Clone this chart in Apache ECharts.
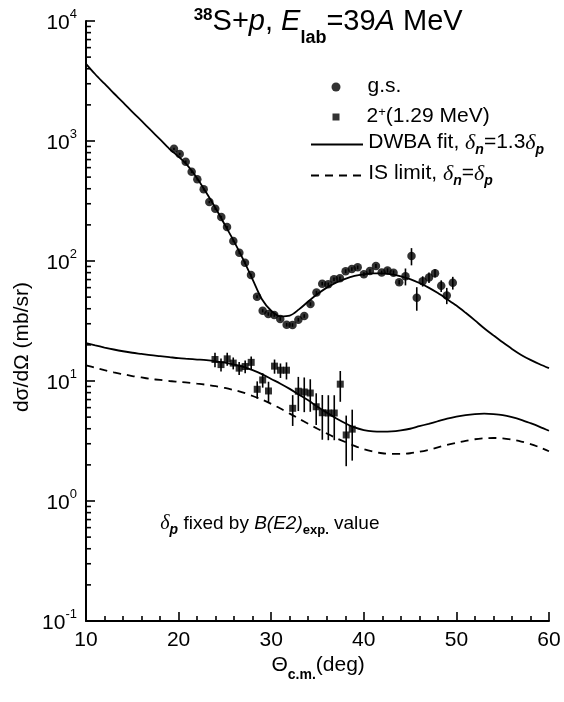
<!DOCTYPE html>
<html><head><meta charset="utf-8">
<script src="https://cdn.jsdelivr.net/npm/echarts/dist/echarts.min.js"></script>
<style>html,body{margin:0;padding:0;background:#fff}#c{width:564px;height:702px}</style>
</head><body><div id="c"></div>
<script>
// ---- data ----
const gsTheta = [19.5,20.12,20.77,21.41,22.02,22.71,23.32,23.96,24.61,25.23,25.91,26.56,27.17,27.82,28.47,29.08,29.69,30.33,30.98,31.67,32.30,32.93,33.57,34.24,34.89,35.51,36.16,36.78,37.42,38.04,38.71,39.34,40.01,40.66,41.31,41.93,42.56,43.21,43.82,44.50,45.15,45.72,46.36,47.04,47.69,48.36,48.96,49.61];
const gsValue = [860,780,672,555,480,396,310,273,233,192,147,117,96.8,76.4,50.4,38.5,36.2,35.5,32.9,29.4,29.3,32.4,34.8,43.8,54.6,64.7,63.9,70.5,71.7,82.3,85.9,88.6,77.6,82.5,90.9,80.2,83.3,79.9,66.6,74.6,110,49.5,67.9,72.9,79,62.1,51.7,65.8];
const gsErr = [20,18,16,13,11,9,7,6,5,4,3.5,3,2.5,2,1.5,1.2,1.2,1.2,1.1,1,1,1.1,1.2,1.5,1.8,2.2,2.2,2.5,2.5,3,3,3.2,3,3,3.5,3,3.5,3.5,3,12,18,11,6.7,7.3,6.3,6.9,8,8];

const exTheta = [23.93,24.58,25.25,25.90,26.54,27.19,27.84,28.49,29.08,29.71,30.36,31.00,31.65,32.32,32.93,33.57,34.22,34.86,35.52,36.17,36.81,37.46,38.10,38.75];
const exValue = [15.1,13.7,15.3,14.1,12.8,13.2,14.3,8.53,10.2,8.26,13.3,12.3,12.3,5.92,8.22,8.1,7.94,6.1,5.44,5.41,5.41,9.41,3.55,3.97];
const exErr = [2.1,1.7,1.9,1.6,1.6,1.6,1.7,1.4,1.4,1.6,1.8,1.7,2.0,1.7,2.6,2.6,2.4,1.8,2.2,2.2,2.2,2.7,1.6,1.8];

const curveTheta = [10,11,12,13,14,15,16,17,18,19,20,21,22,23,24,25,26,27,28,29,30,31,32,33,34,35,36,37,38,39,40,41,42,43,44,45,46,47,48,49,50,51,52,53,54,55,56,57,58,59,60];
const dwbaGs = [4400,3600,3000,2500,2100,1750,1470,1230,1030,860,740,620,490,370,275,200,145,102,70,48,38.5,34.5,35,39.5,46,53,60,66,71,75,77.5,79,79,77.5,74.5,70.5,65.5,60,54,48,42.5,37,32,27.5,24,21,18.5,16.5,15,13.8,12.8];
const dwbaEx = [20.7,19.8,19,18.3,17.7,17.2,16.8,16.4,16.1,15.8,15.5,15.3,15.1,14.9,14.6,14.2,13.7,13.1,12.3,11.4,10.4,9.5,8.6,7.7,6.9,6.1,5.45,4.9,4.45,4.1,3.9,3.8,3.78,3.8,3.88,4.0,4.2,4.4,4.62,4.85,5.05,5.2,5.3,5.35,5.3,5.2,5.0,4.75,4.45,4.15,3.85];
const isLimit = [13.5,12.9,12.3,11.8,11.4,11.0,10.7,10.4,10.2,10.0,9.85,9.7,9.5,9.3,9.05,8.75,8.4,8.0,7.5,7.0,6.45,5.9,5.35,4.85,4.4,4.0,3.65,3.35,3.1,2.88,2.7,2.58,2.5,2.47,2.47,2.5,2.57,2.67,2.8,2.93,3.05,3.17,3.27,3.33,3.35,3.33,3.25,3.13,2.98,2.8,2.6];

const xMin = 10, xMax = 60, xStep = 10;
const yExpMin = -1, yExpMax = 4;

// ---- build ----
const F = 'Liberation Sans, Arial, sans-serif';
const zip = (a, b) => a.map((v, i) => [v, b[i]]);
const errData = (t, v, e) => t.map((x, i) => [x, v[i] - e[i], v[i] + e[i]]);
const minorTickVals = [];
for (let e = yExpMin; e < yExpMax; e++) for (let k = 2; k <= 9; k++) minorTickVals.push([xMin, k * Math.pow(10, e)]);

const errRender = (params, api) => {
  const a = api.coord([api.value(0), api.value(1)]);
  const b = api.coord([api.value(0), api.value(2)]);
  return {type: 'line', shape: {x1: a[0], y1: a[1], x2: b[0], y2: b[1]}, style: {stroke: '#000', lineWidth: 1.6}};
};

function mkRich(base, fill) {
  const c = fill ? {fill: '#000'} : {color: '#000'};
  return {
    h: Object.assign({fontSize: 1, lineHeight: base + 4, verticalAlign: 'top'}, c),
    t: Object.assign({fontSize: base, fontFamily: F, lineHeight: base + 1, verticalAlign: 'top'}, c),
    tp: Object.assign({fontSize: base, fontFamily: F, lineHeight: base + 1, verticalAlign: 'top', padding: [0, 0, 0, 22]}, c),
    i: Object.assign({fontSize: base, fontFamily: F, fontStyle: 'italic', lineHeight: base + 1, verticalAlign: 'top'}, c),
    d: Object.assign({fontSize: base + 1, fontFamily: 'Liberation Serif, serif', fontStyle: 'italic', lineHeight: base + 1, verticalAlign: 'top'}, c),
    s: Object.assign({fontSize: 14, fontFamily: F, fontWeight: 'bold', fontStyle: 'italic', lineHeight: 14, verticalAlign: 'bottom'}, c),
    s2: Object.assign({fontSize: 13, fontFamily: F, fontWeight: 'bold', lineHeight: 13, verticalAlign: 'bottom'}, c),
    sup: Object.assign({fontSize: 13, fontFamily: F, lineHeight: 13, verticalAlign: 'top'}, c)
  };
}
const legRich = mkRich(21, false);

function legendFor(name, left, top, w, h, text, hideSym) {
  const o = {
    data: [name], left: left, top: top, orient: 'vertical', itemWidth: w, itemHeight: h,
    selectedMode: false, padding: 0, formatter: () => text,
    textStyle: {fontSize: 21, fontFamily: F, color: '#000', rich: legRich}
  };
  if (hideSym) o.itemStyle = {opacity: 0};
  return o;
}

const chart = echarts.init(document.getElementById('c'), null, {renderer: 'canvas'});
chart.setOption({
  animation: false,
  backgroundColor: '#fff',
  grid: {left: 86, right: 15, top: 21, bottom: 81, containLabel: false},
  legend: [
    legendFor('g.s.', 331.5, 76, 9, 9, '{tp|g.s.}', false),
    legendFor('2+', 332.5, 106, 7, 7, '{tp|2}{sup|+}{t|(1.29 MeV)}', false),
    legendFor('DWBA fit', 310, 132, 52, 10, '{h| }{t|DWBA fit, }{d|δ}{s|n}{t|=1.3}{d|δ}{s|p}', true),
    legendFor('IS limit', 310, 163, 52, 10, '{h| }{t|IS limit, }{d|δ}{s|n}{t|=}{d|δ}{s|p}', true)
  ],
  xAxis: {
    type: 'value', min: xMin, max: xMax, interval: xStep,
    axisLine: {lineStyle: {color: '#000', width: 2}},
    axisTick: {inside: true, length: 9, lineStyle: {color: '#000', width: 1.6}},
    minorTick: {show: true, splitNumber: 5, length: 5, lineStyle: {color: '#000', width: 1.6}},
    axisLabel: {fontSize: 21, fontFamily: F, color: '#000', margin: 9},
    splitLine: {show: false}
  },
  yAxis: {
    type: 'log', logBase: 10, min: Math.pow(10, yExpMin), max: Math.pow(10, yExpMax),
    axisLine: {show: true, lineStyle: {color: '#000', width: 2}},
    axisTick: {show: true, inside: true, length: 9, lineStyle: {color: '#000', width: 1.6}},
    axisLabel: {
      margin: 9, color: '#000',
      formatter: v => '{b|10}{e|' + Math.round(Math.log10(v)) + '}',
      rich: {
        b: {fontSize: 21, fontFamily: F, color: '#000', lineHeight: 26, verticalAlign: 'bottom'},
        e: {fontSize: 13, fontFamily: F, color: '#000', lineHeight: 13, verticalAlign: 'top'}
      }
    },
    splitLine: {show: false}
  },
  series: [
    {type: 'custom', silent: true, data: minorTickVals, clip: false, z: 5,
     renderItem: (p, api) => {
       const c = api.coord([api.value(0), api.value(1)]);
       return {type: 'line', shape: {x1: c[0], y1: c[1], x2: c[0] + 5, y2: c[1]}, style: {stroke: '#000', lineWidth: 1.6}};
     }},
    {name: 'DWBA fit', type: 'line', data: zip(curveTheta, dwbaGs), symbol: 'none', smooth: 0.3,
     lineStyle: {color: '#000', width: 1.8}, itemStyle: {color: '#000'}, z: 2},
    {name: 'DWBA fit', type: 'line', data: zip(curveTheta, dwbaEx), symbol: 'none', smooth: 0.3,
     lineStyle: {color: '#000', width: 1.8}, itemStyle: {color: '#000'}, z: 2},
    {name: 'IS limit', type: 'line', data: zip(curveTheta, isLimit), symbol: 'none', smooth: 0.3,
     lineStyle: {color: '#000', width: 1.8, type: [8, 6]}, itemStyle: {color: '#000'}, z: 2},
    {type: 'custom', data: errData(gsTheta, gsValue, gsErr), renderItem: errRender, z: 3, encode: {x: 0, y: [1, 2]}},
    {type: 'custom', data: errData(exTheta, exValue, exErr), renderItem: errRender, z: 3, encode: {x: 0, y: [1, 2]}},
    {name: 'g.s.', type: 'scatter', data: zip(gsTheta, gsValue), symbol: 'circle', symbolSize: 8.5,
     itemStyle: {color: '#000'}, z: 4},
    {name: '2+', type: 'scatter', data: zip(exTheta, exValue), symbol: 'rect', symbolSize: 7,
     itemStyle: {color: '#000'}, z: 4}
  ],
  graphic: [
    {type: 'text', x: 328, y: 7, style: {
      text: '{h| }{sup|38}{n|S+}{i|p}{n|, }{i|E}{sub|lab}{n|=39}{i|A}{n| MeV}',
      align: 'center', verticalAlign: 'top',
      rich: {
        h: {fontSize: 1, lineHeight: 40, verticalAlign: 'top', fill: '#000'},
        n: {fontSize: 29, fontFamily: F, fill: '#000', lineHeight: 30, verticalAlign: 'top'},
        i: {fontSize: 29, fontFamily: F, fontStyle: 'italic', fill: '#000', lineHeight: 30, verticalAlign: 'top'},
        sup: {fontSize: 17, fontFamily: F, fontWeight: 'bold', fill: '#000', lineHeight: 20, verticalAlign: 'top'},
        sub: {fontSize: 18, fontFamily: F, fontWeight: 'bold', fill: '#000', lineHeight: 18, verticalAlign: 'bottom'}
      }}},
    {type: 'text', x: 22, y: 347, rotation: Math.PI / 2, style: {
      text: 'dσ/dΩ (mb/sr)', fontSize: 21, fontFamily: F, fill: '#000', align: 'center', verticalAlign: 'middle'}},
    {type: 'text', x: 318, y: 655, style: {
      text: '{h| }{a|Θ}{s|c.m.}{a|(deg)}', align: 'center', verticalAlign: 'top',
      rich: {
        h: {fontSize: 1, lineHeight: 27, verticalAlign: 'top', fill: '#000'},
        a: {fontSize: 21, fontFamily: F, fill: '#000', lineHeight: 22, verticalAlign: 'top'},
        s: {fontSize: 14, fontFamily: F, fontWeight: 'bold', fill: '#000', lineHeight: 14, verticalAlign: 'bottom'}
      }}},
    {type: 'text', x: 160, y: 514, style: {
      text: '{h| }{d|δ}{s|p}{t| fixed by }{i|B(E2)}{s2|exp.}{t| value}', align: 'left', verticalAlign: 'top',
      rich: mkRich(19, true)}}
  ]
});
</script></body></html>
